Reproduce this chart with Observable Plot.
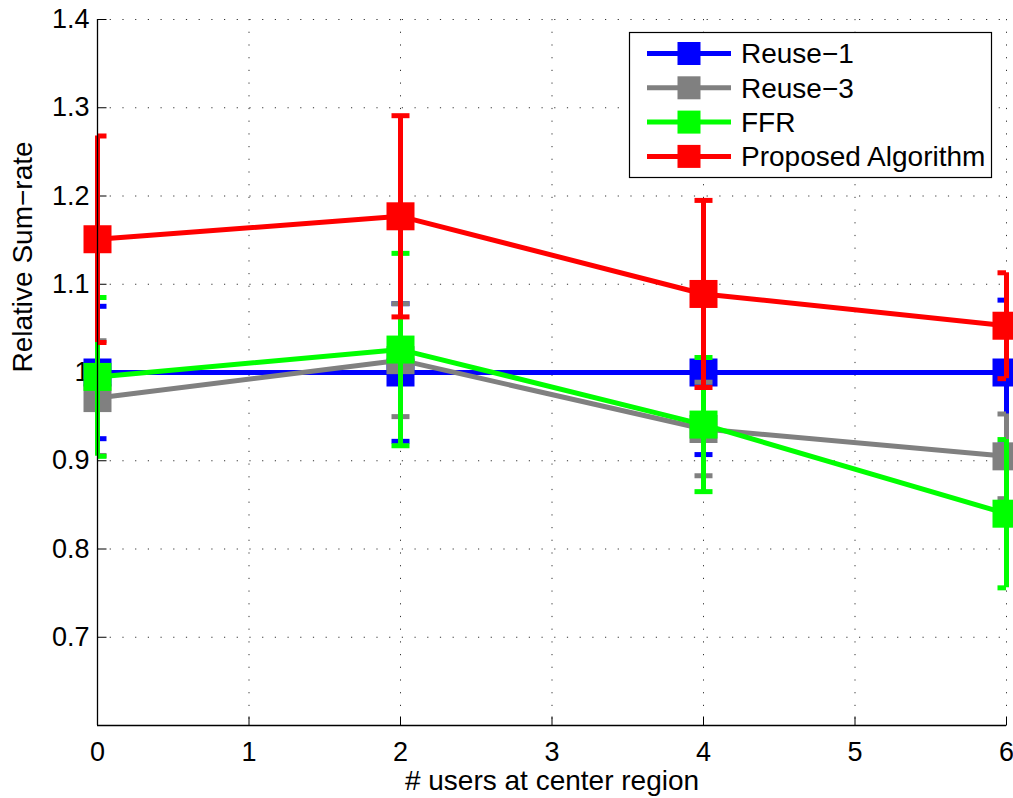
<!DOCTYPE html>
<html>
<head>
<meta charset="utf-8">
<script src="https://cdn.jsdelivr.net/npm/d3@7"></script>
<script src="https://cdn.jsdelivr.net/npm/@observablehq/plot@0.6"></script>
<style>
html, body { margin: 0; padding: 0; background: #fff; }
#chart { position: relative; width: 1013px; height: 798px; }
#legend { position: absolute; left: 0; top: 0; pointer-events: none; }
</style>
</head>
<body>
<div id="chart"></div>
<script>
// ---- data ----
const xValues = [0, 2, 4, 6];
const seriesNames = ["Reuse\u22121", "Reuse\u22123", "FFR", "Proposed Algorithm"];
const seriesColors = ["#0000ff", "#808080", "#00ff00", "#ff0000"];
const reuse1Mean = [1.000, 1.000, 1.000, 1.000];
const reuse1Err = [0.075, 0.078, 0.093, 0.082];
const reuse3Mean = [0.971, 1.014, 0.936, 0.905];
const reuse3Err = [0.065, 0.064, 0.053, 0.048];
const ffrMean = [0.995, 1.026, 0.941, 0.840];
const ffrErr = [0.090, 0.109, 0.076, 0.084];
const proposedMean = [1.151, 1.177, 1.089, 1.053];
const proposedErr = [0.117, 0.114, 0.106, 0.060];
const xTicks = [0, 1, 2, 3, 4, 5, 6];
const xTickLabels = ["0", "1", "2", "3", "4", "5", "6"];
const yTicks = [0.7, 0.8, 0.9, 1.0, 1.1, 1.2, 1.3, 1.4];
const yTickLabels = ["0.7", "0.8", "0.9", "1", "1.1", "1.2", "1.3", "1.4"];
const xLabel = "# users at center region";
const yLabel = "Relative Sum\u2212rate";

// ---- build ----
const font = "'Liberation Sans', Arial, Helvetica, sans-serif";
const means = [reuse1Mean, reuse3Mean, ffrMean, proposedMean];
const errs = [reuse1Err, reuse3Err, ffrErr, proposedErr];
const series = seriesNames.map((name, i) =>
  xValues.map((x, j) => ({
    series: name, x, y: means[i][j],
    lo: means[i][j] - errs[i][j], hi: means[i][j] + errs[i][j]
  }))
);

const squareSym = { draw(ctx) { ctx.rect(-14, -14, 28, 28); } };
const capSym = { draw(ctx) { ctx.moveTo(-9, 0); ctx.lineTo(9, 0); } };
const tickUpSym = { draw(ctx) { ctx.moveTo(0, 0); ctx.lineTo(0, -9); } };
const tickRightSym = { draw(ctx) { ctx.moveTo(0, 0); ctx.lineTo(9, 0); } };
const dash = "1.2,11.5";
const lw = 5;
const findLabel = (ticks, labels) => d => labels[ticks.findIndex(t => Math.abs(t - d) < 1e-9)];

const marks = [
  Plot.ruleY(yTicks, { y: d => d, stroke: "#000", strokeWidth: 1, strokeDasharray: dash, strokeOpacity: 0.8 }),
  Plot.ruleX(xTicks.slice(1), { x: d => d, stroke: "#000", strokeWidth: 1, strokeDasharray: dash, strokeOpacity: 0.8 }),
  Plot.dot(yTicks, { x: () => 0, y: d => d, symbol: tickRightSym, stroke: "#000", strokeWidth: 1, fill: "none" }),
  Plot.dot(xTicks, { x: d => d, y: () => 0.6, symbol: tickUpSym, stroke: "#000", strokeWidth: 1, fill: "none" }),
  Plot.axisY({ ticks: yTicks, tickSize: 0, tickPadding: 8, tickFormat: findLabel(yTicks, yTickLabels), fontSize: 27, fill: "#000", label: null }),
  Plot.axisX({ ticks: xTicks, tickSize: 0, tickPadding: 16, tickFormat: findLabel(xTicks, xTickLabels), fontSize: 27, fill: "#000", label: null })
];

series.forEach((data, i) => {
  const c = seriesColors[i];
  marks.push(
    Plot.ruleX(data, { x: "x", y1: "lo", y2: "hi", stroke: c, strokeWidth: lw }),
    Plot.dot(data, { x: "x", y: "lo", symbol: capSym, stroke: c, strokeWidth: lw, fill: "none", clip: true }),
    Plot.dot(data, { x: "x", y: "hi", symbol: capSym, stroke: c, strokeWidth: lw, fill: "none", clip: true }),
    Plot.line(data, { x: "x", y: "y", stroke: c, strokeWidth: lw }),
    Plot.dot(data, { x: "x", y: "y", symbol: squareSym, fill: c, stroke: "none" })
  );
});

marks.push(
  Plot.ruleX([0], { stroke: "#000", strokeWidth: 1.3 }),
  Plot.ruleY([0.6], { stroke: "#000", strokeWidth: 1.3 }),
  Plot.text([xLabel], { text: d => d, frameAnchor: "bottom", dy: 64, fontSize: 28, fill: "#000" }),
  Plot.text([yLabel], { text: d => d, frameAnchor: "left", dx: -74, rotate: -90, fontSize: 28, fill: "#000" })
);

const chart = Plot.plot({
  width: 1013,
  height: 798,
  marginLeft: 97,
  marginRight: 7,
  marginTop: 19,
  marginBottom: 73,
  x: { type: "linear", domain: [0, 6] },
  y: { type: "linear", domain: [0.6, 1.4] },
  style: { fontFamily: font, fontSize: "27px", background: "#fff", color: "#000", overflow: "visible" },
  marks
});
const container = document.getElementById("chart");
container.appendChild(chart);

// ---- legend (inside the axes, top right) ----
const leg = d3.select(container).append("svg")
  .attr("id", "legend").attr("width", 1013).attr("height", 798)
  .style("font-family", font);
leg.append("rect").attr("x", 629.5).attr("y", 32.5).attr("width", 362).attr("height", 145)
  .attr("fill", "#fff").attr("stroke", "#000").attr("stroke-width", 1.2);
seriesNames.forEach((name, i) => {
  const cy = 53.5 + i * 34.3;
  const g = leg.append("g");
  g.append("line").attr("x1", 647).attr("x2", 731).attr("y1", cy).attr("y2", cy)
    .attr("stroke", seriesColors[i]).attr("stroke-width", lw);
  g.append("rect").attr("x", 689 - 11.5).attr("y", cy - 11.5).attr("width", 23).attr("height", 23)
    .attr("fill", seriesColors[i]);
  g.append("text").attr("x", 741).attr("y", cy).attr("dy", "0.35em")
    .attr("font-size", 28).attr("fill", "#000").text(name);
});
</script>
</body>
</html>
